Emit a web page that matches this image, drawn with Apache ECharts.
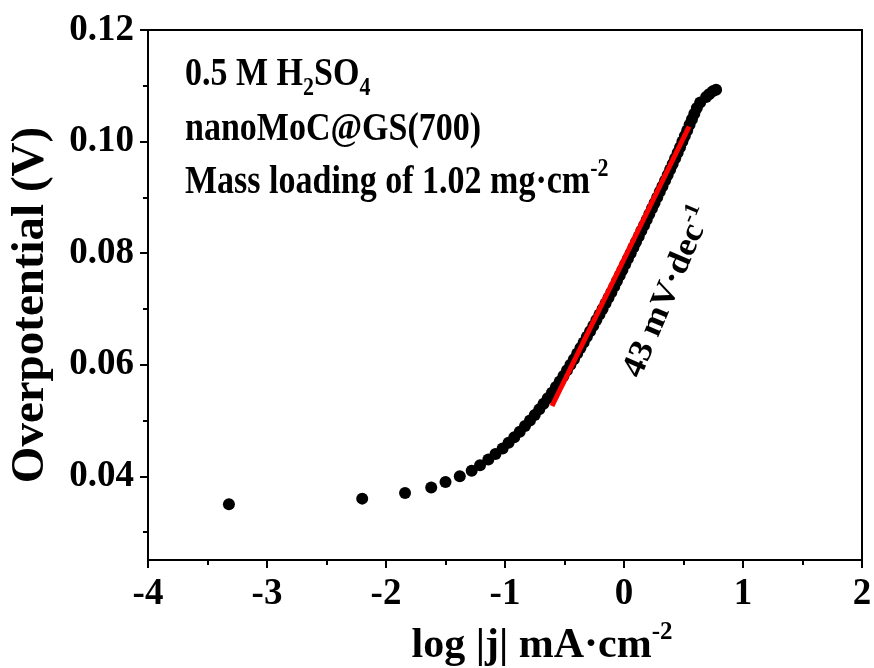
<!DOCTYPE html>
<html>
<head>
<meta charset="utf-8">
<script src="https://cdn.jsdelivr.net/npm/echarts@6/dist/echarts.min.js"></script>
<style>
  html, body { margin: 0; padding: 0; background: #fff; }
  #chart { width: 874px; height: 668px; }
</style>
</head>
<body>
<div id="chart"></div>
<script>
// Tafel data: log|j| (mA cm-2) vs overpotential (V)
var logJ = [
  -3.32, -2.20, -1.84, -1.62, -1.50, -1.38, -1.28, -1.21, -1.14, -1.08,
  -1.02, -0.97, -0.922, -0.876, -0.832, -0.790, -0.750, -0.712, -0.676, -0.641,
  -0.606, -0.572, -0.540, -0.509, -0.479, -0.450, -0.421, -0.393, -0.366, -0.339,
  -0.312, -0.285, -0.258, -0.232, -0.206, -0.180, -0.155, -0.130, -0.106, -0.082,
  -0.059, -0.036, -0.013, 0.010, 0.033, 0.056, 0.079, 0.101, 0.124, 0.146,
  0.169, 0.191, 0.213, 0.235, 0.257, 0.279, 0.301, 0.323, 0.345, 0.367,
  0.388, 0.409, 0.430, 0.451, 0.471, 0.491, 0.511, 0.531, 0.551, 0.571,
  0.591, 0.612, 0.640, 0.690, 0.715, 0.745, 0.774
];
var overpotential = [
  0.035, 0.036, 0.037, 0.038, 0.039, 0.040, 0.041, 0.042, 0.043, 0.044,
  0.045, 0.046, 0.047, 0.048, 0.049, 0.050, 0.051, 0.052, 0.053, 0.054,
  0.055, 0.056, 0.057, 0.058, 0.059, 0.060, 0.061, 0.062, 0.063, 0.064,
  0.065, 0.066, 0.067, 0.068, 0.069, 0.070, 0.071, 0.072, 0.073, 0.074,
  0.075, 0.076, 0.077, 0.078, 0.079, 0.080, 0.081, 0.082, 0.083, 0.084,
  0.085, 0.086, 0.087, 0.088, 0.089, 0.090, 0.091, 0.092, 0.093, 0.094,
  0.095, 0.096, 0.097, 0.098, 0.099, 0.100, 0.101, 0.102, 0.103, 0.104,
  0.105, 0.106, 0.107, 0.108, 0.1085, 0.109, 0.1093
];
// linear Tafel fit, 43 mV/dec
var fitX = [-0.605, 0.547];
var fitY = [0.0526, 0.1027];

var yTicks = [0.04, 0.06, 0.08, 0.10, 0.12];
var yMinorTicks = [0.03, 0.05, 0.07, 0.09, 0.11];

var FONT = '"Liberation Serif", "Times New Roman", serif';

var points = logJ.map(function (x, i) { return [x, overpotential[i]]; });
var fitLine = fitX.map(function (x, i) { return [x, fitY[i]]; });

var myChart = echarts.init(document.getElementById('chart'));

// stretched a little vertically, like the bold Times text of the original figure
var TALL = 1.15;

myChart.setOption({
    animation: false,
    backgroundColor: '#fff',
    grid: {
        left: 148,
        right: 12,
        top: 30,
        bottom: 108,
        outerBoundsMode: 'none',
        show: true,
        borderColor: '#000',
        borderWidth: 2,
        backgroundColor: 'transparent'
    },
    xAxis: {
        type: 'value',
        min: -4,
        max: 2,
        interval: 1,
        name: 'log |j| mA·cm{sup|-2}',
        nameLocation: 'middle',
        nameGap: 60,
        nameTextStyle: {
            fontFamily: FONT, fontWeight: 'bold', fontSize: 42, color: '#000',
            lineHeight: 52, verticalAlign: 'top',
            padding: [0, 0, 0, 74],
            rich: {
                sup: {fontFamily: FONT, fontWeight: 'bold', fontSize: 25, verticalAlign: 'top', lineHeight: 52}
            }
        },
        axisLine: {onZero: false, lineStyle: {color: '#000', width: 2}},
        axisTick: {length: 8, lineStyle: {color: '#000', width: 2}},
        minorTick: {show: true, splitNumber: 2, length: 5, lineStyle: {color: '#000', width: 2}},
        splitLine: {show: false},
        axisLabel: {
            fontFamily: FONT, fontWeight: 'bold', fontSize: 37, color: '#000', margin: 16
        }
    },
    yAxis: [{
        type: 'value',
        min: 0.025,
        max: 0.12,
        name: 'Overpotential (V)',
        nameLocation: 'middle',
        nameGap: 94,
        nameTextStyle: {
            fontFamily: FONT, fontWeight: 'bold', fontSize: 47, color: '#000',
            padding: [0, 20, 0, 0]
        },
        axisLine: {onZero: false, lineStyle: {color: '#000', width: 2}},
        axisTick: {customValues: yTicks, length: 8, lineStyle: {color: '#000', width: 2}},
        splitLine: {show: false},
        axisLabel: {
            customValues: yTicks,
            formatter: function (v) { return v.toFixed(2); },
            fontFamily: FONT, fontWeight: 'bold', fontSize: 37, color: '#000', margin: 14
        }
    }, {
        type: 'value',
        min: 0.025,
        max: 0.12,
        position: 'left',
        axisLine: {show: false, onZero: false},
        axisTick: {customValues: yMinorTicks, length: 5, lineStyle: {color: '#000', width: 2}},
        axisLabel: {show: false},
        splitLine: {show: false}
    }],
    graphic: [{
        type: 'text',
        x: 185,
        y: 75,
        scaleY: TALL,
        style: {
            text: '0.5 M H{sub|2}SO{sub|4}',
            fontFamily: FONT, fontWeight: 'bold', fontSize: 34, fill: '#000',
            align: 'left',
            verticalAlign: 'middle',
            lineHeight: 46,
            rich: {
                sub: {fontFamily: FONT, fontWeight: 'bold', fontSize: 22, verticalAlign: 'bottom', lineHeight: 46}
            }
        }
    }, {
        type: 'text',
        x: 185,
        y: 130,
        scaleY: TALL,
        style: {
            text: 'nanoMoC@GS(700)',
            fontFamily: FONT, fontWeight: 'bold', fontSize: 34, fill: '#000',
            align: 'left',
            verticalAlign: 'middle'
        }
    }, {
        type: 'text',
        x: 185,
        y: 183,
        scaleY: TALL,
        style: {
            text: 'Mass loading of 1.02 mg·cm{sup|-2}',
            fontFamily: FONT, fontWeight: 'bold', fontSize: 34, fill: '#000',
            align: 'left',
            verticalAlign: 'middle',
            lineHeight: 46,
            rich: {
                sup: {fontFamily: FONT, fontWeight: 'bold', fontSize: 22, verticalAlign: 'top', lineHeight: 46}
            }
        }
    }, {
        type: 'text',
        x: 668,
        y: 292,
        rotation: 67 * Math.PI / 180,
        scaleX: 1.08,
        style: {
            text: '43 mV·dec{sup|-1}',
            fontFamily: FONT, fontWeight: 'bold', fontSize: 33, fill: '#000',
            align: 'center',
            verticalAlign: 'middle',
            lineHeight: 40,
            rich: {
                sup: {fontFamily: FONT, fontWeight: 'bold', fontSize: 21, verticalAlign: 'top', lineHeight: 40}
            }
        }
    }],
    series: [{
        type: 'scatter',
        data: points,
        symbol: 'circle',
        symbolSize: 12,
        itemStyle: {color: '#000', opacity: 1},
        z: 2
    }, {
        type: 'line',
        data: fitLine,
        symbol: 'none',
        lineStyle: {color: '#ff0000', width: 5},
        z: 3
    }]
});
</script>
</body>
</html>
